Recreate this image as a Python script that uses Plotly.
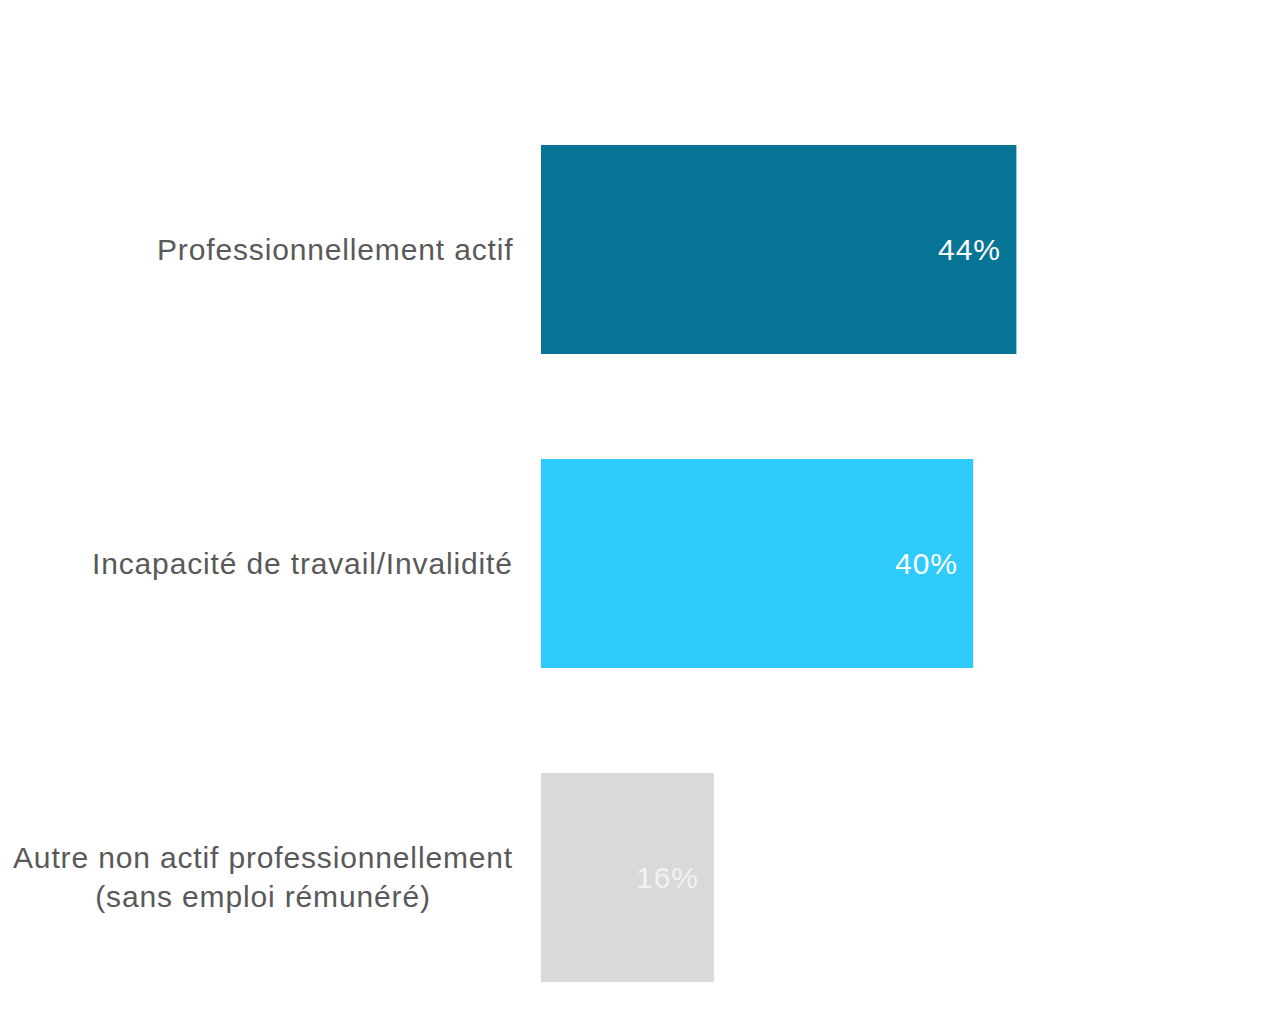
import plotly.graph_objects as go

# Répartition par statut professionnel
categories = [
    "Professionnellement actif",
    "Incapacité de travail/Invalidité",
    "Autre non actif professionnellement<br>(sans emploi rémunéré)",
]
values = [44, 40, 16]
bar_colors = ["#057495", "#2ECBFB", "#D9D9D9"]
value_text_colors = ["#FFFFFF", "#FFFFFF", "#F2F2F2"]

positions = list(range(len(categories)))
FONT = "Liberation Sans, Arial, sans-serif"


def spaced(text, px):
    """Wrap each line in a span with extra letter spacing."""
    return "<br>".join(
        f'<span style="letter-spacing:{px}px">{line}</span>' for line in text.split("<br>")
    )


fig = go.Figure()
fig.add_trace(go.Bar(
    x=values,
    y=positions,
    orientation="h",
    marker=dict(color=bar_colors, line=dict(width=0)),
    width=0.666,
    hoverinfo="skip",
))

# Category labels, centred per line and right-aligned against the axis
for pos, label in zip(positions, categories):
    fig.add_annotation(
        x=0, y=pos, xref="x", yref="y",
        text=spaced(label, 0.85), showarrow=False,
        xanchor="right", yanchor="middle", align="center",
        xshift=-26,
        font=dict(family=FONT, size=30, color="#595959"),
    )

# Value labels inside the end of each bar
for pos, v, c in zip(positions, values, value_text_colors):
    fig.add_annotation(
        x=v, y=pos, xref="x", yref="y",
        text=spaced(f"{v}%", 1), showarrow=False,
        xanchor="right", yanchor="middle",
        xshift=-13,
        font=dict(family=FONT, size=30, color=c),
    )

fig.update_layout(
    width=1276, height=1023,
    margin=dict(l=541, r=191, t=0, b=0),
    paper_bgcolor="white", plot_bgcolor="white",
    showlegend=False,
    xaxis=dict(range=[0, 50.35], visible=False, fixedrange=True),
    yaxis=dict(range=[2.4634, -0.7946], visible=False, fixedrange=True),
)

fig.write_html("out.html")
